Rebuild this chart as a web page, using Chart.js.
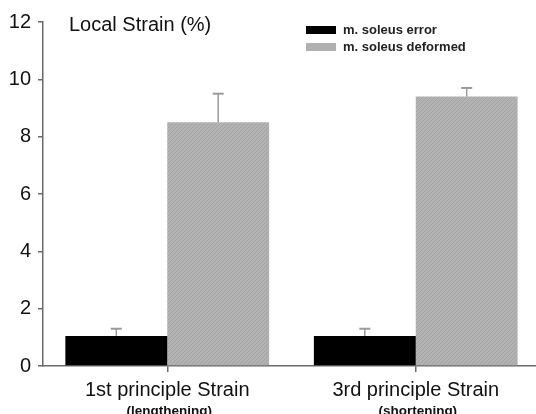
<!DOCTYPE html>
<html>
<head>
<meta charset="utf-8">
<script src="https://cdn.jsdelivr.net/npm/chart.js@4/dist/chart.umd.min.js"></script>
<style>
  html, body { margin: 0; padding: 0; background: #fff; overflow: hidden; }
  #wrap { position: relative; width: 544px; height: 414px; }
  .txt { position: absolute; font-family: 'Liberation Sans', Arial, sans-serif; color: #111; white-space: nowrap; }
  #title { left: 69px; top: 13px; font-size: 20px; line-height: 23px; }
  .leg { font-size: 13px; font-weight: bold; line-height: 15px; color: #222; }
  .box { position: absolute; width: 30px; height: 8px; }
</style>
</head>
<body>
<div id="wrap">
  <canvas id="barChart" width="544" height="414"></canvas>
  <div class="txt" id="title">Local Strain (%)</div>
  <div class="box" id="box0" style="left:306px; top:26px; background:#000;"></div>
  <div class="box" id="box1" style="left:306px; top:43px;"></div>
  <div class="txt leg" id="leg0" style="left:343px; top:22px;"></div>
  <div class="txt leg" id="leg1" style="left:343px; top:39px;"></div>
</div>
<script>
let categories = ['1st principle Strain', '3rd principle Strain']
let subLabels = ['(lengthening)', '(shortening)']
let seriesNames = ['m. soleus error', 'm. soleus deformed']
let errorValues = [1.05, 1.05]
let errorSd = [0.25, 0.25]
let deformedValues = [8.5, 9.4]
let deformedSd = [1.0, 0.3]
let yTicks = [0, 2, 4, 6, 8, 10, 12]

const fontFam = "'Liberation Sans', Arial, sans-serif"

// diagonal hatch for the grey bars
function makeHatch(){
    const c = document.createElement('canvas')
    c.width = 4
    c.height = 4
    const g = c.getContext('2d')
    g.fillStyle = '#b3b3b3'
    g.fillRect(0, 0, 4, 4)
    g.strokeStyle = '#a3a3a3'
    g.lineWidth = 1
    g.beginPath()
    g.moveTo(-1, 5); g.lineTo(5, -1)
    g.moveTo(-1, 1); g.lineTo(1, -1)
    g.moveTo(3, 5); g.lineTo(5, 3)
    g.stroke()
    return g.createPattern(c, 'repeat')
}
const hatch = makeHatch()

document.getElementById('leg0').textContent = seriesNames[0]
document.getElementById('leg1').textContent = seriesNames[1]
document.getElementById('box1').style.background = '#b0b0b0'

const sdList = [errorSd, deformedSd]

const errorBars = {
    id: 'errorBars',
    afterDatasetsDraw(chart){
        const ctx = chart.ctx
        const y = chart.scales.y
        ctx.save()
        ctx.strokeStyle = '#9a9a9a'
        chart.data.datasets.forEach((ds, di) => {
            const meta = chart.getDatasetMeta(di)
            meta.data.forEach((bar, i) => {
                const top = y.getPixelForValue(ds.data[i] + sdList[di][i])
                ctx.lineWidth = 1.5
                ctx.beginPath()
                ctx.moveTo(bar.x, bar.y)
                ctx.lineTo(bar.x, top)
                ctx.stroke()
                ctx.lineWidth = 2
                ctx.beginPath()
                ctx.moveTo(bar.x - 5.5, top)
                ctx.lineTo(bar.x + 5.5, top)
                ctx.stroke()
            })
        })
        ctx.restore()
    }
}

const xLabels = {
    id: 'xLabels',
    afterDraw(chart){
        const ctx = chart.ctx
        const x = chart.scales.x
        ctx.save()
        ctx.fillStyle = '#111'
        ctx.textAlign = 'center'
        ctx.textBaseline = 'middle'
        categories.forEach((c, i) => {
            const px = x.getPixelForValue(i)
            ctx.font = '20px ' + fontFam
            ctx.fillText(c, px, 390)
            ctx.font = 'bold 13.5px ' + fontFam
            ctx.fillText(subLabels[i], px + 2, 411)
        })
        ctx.restore()
    }
}

let ctx = document.getElementById('barChart').getContext('2d')
let myChart = new Chart(ctx, {
    type: 'bar',
    data: {
        labels: categories,
        datasets: [{
            label: seriesNames[0],
            data: errorValues,
            backgroundColor: '#000000',
            borderWidth: 0
        },
        {
            label: seriesNames[1],
            data: deformedValues,
            backgroundColor: hatch,
            borderWidth: 0
        }]
    },
    options: {
        responsive: false,
        animation: false,
        categoryPercentage: 0.82,
        barPercentage: 1.0,
        layout: { padding: { top: 22, right: 4, left: 0, bottom: 0 } },
        plugins: {
            legend: { display: false },
            tooltip: { enabled: false }
        },
        scales: {
            x: {
                ticks: { display: false },
                grid: { display: true, offset: false, drawOnChartArea: false, tickLength: 6, color: '#6a6a6a', lineWidth: 1.5 },
                border: { color: '#6a6a6a', width: 1.5 },
                afterFit(scale){ scale.height = 48 }
            },
            y: {
                min: 0,
                max: 12,
                afterBuildTicks(scale){ scale.ticks = yTicks.map(v => ({ value: v })) },
                ticks: { font: { size: 20, family: fontFam }, color: '#111', padding: 7 },
                grid: { display: true, drawOnChartArea: false, tickLength: 5, color: '#6a6a6a', lineWidth: 1.5 },
                border: { color: '#6a6a6a', width: 1.5 },
                afterFit(scale){ scale.width = 43 }
            }
        }
    },
    plugins: [errorBars, xLabels]
})
</script>
</body>
</html>
